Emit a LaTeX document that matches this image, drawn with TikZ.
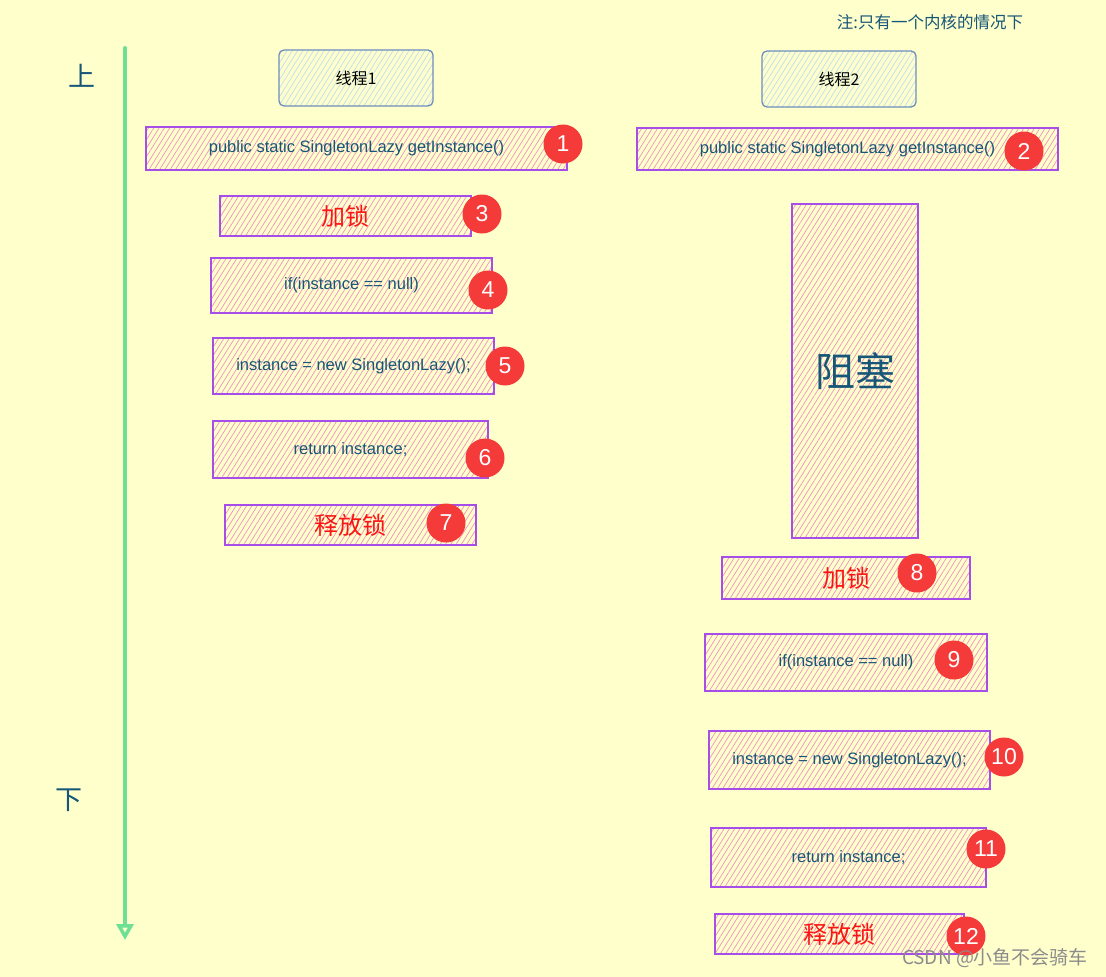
\documentclass[tikz,border=0pt]{standalone}
\usepackage{fontspec}
\setmainfont{Liberation Sans}
\newfontfamily\cjk{Noto Sans CJK SC}
\usetikzlibrary{patterns.meta, arrows.meta}

\definecolor{bgyellow}{RGB}{255,255,204}
\definecolor{boxline}{RGB}{168,78,232}
\definecolor{hatchpink}{RGB}{240,145,195}
\definecolor{threadline}{RGB}{108,142,191}
\definecolor{hatchblue}{RGB}{190,220,242}
\definecolor{inktext}{RGB}{22,86,120}
\definecolor{badgered}{RGB}{245,58,58}
\definecolor{lockred}{RGB}{250,20,20}
\definecolor{arrowgreen}{RGB}{110,224,150}

\tikzset{
  codebox/.style={draw=boxline, line width=1.3pt, pattern={Lines[angle=58,distance=4.5pt,line width=0.7pt]},
    pattern color=hatchpink, text=inktext, font=\fontsize{16.5}{19}\selectfont, inner sep=0pt},
  threadbox/.style={draw=threadline, line width=1.3pt, rounded corners=5pt,
    pattern={Lines[angle=58,distance=4.5pt,line width=0.7pt]}, pattern color=hatchblue,
    font=\cjk\fontsize{16}{19}\selectfont, inner sep=0pt},
  locktext/.style={text=lockred, font=\cjk\fontsize{24}{28}\selectfont},
  badge/.style={circle, fill=badgered, minimum size=39pt, inner sep=0pt, text=white,
    font=\fontsize{23}{25}\selectfont},
  sidelabel/.style={text=inktext, font=\cjk\fontsize{27}{30}\selectfont}
}

\begin{document}
\begin{tikzpicture}[x=1pt,y=-1pt]
  \fill[bgyellow] (0,0) rectangle (1106,977);
  \useasboundingbox (0,0) rectangle (1106,977);

  % time axis
  \coordinate (top) at (125,48);
  \coordinate (bottom) at (125,940);
  \draw[arrowgreen, line width=4pt, line cap=round, -{Triangle[open, length=16pt, width=17pt, line width=3.5pt]}] (top) -- (bottom);
  \node[sidelabel] (up) at (82,76) {上};
  \node[sidelabel] (down) at (69,800) {下};
  \node[text=inktext, font=\cjk\fontsize{16.5}{19}\selectfont] (note) at (930,22) {注:只有一个内核的情况下};

  % thread 1
  \node[threadbox, minimum width=154pt, minimum height=56pt] (t1) at (356,78) {线程1};
  \node[codebox, minimum width=421pt, minimum height=43pt] (a1) at (356.5,148.5) {public static SingletonLazy getInstance()};
  \node[codebox, minimum width=251pt, minimum height=40pt, locktext] (a3) at (345.5,216) {加锁};
  \node[codebox, minimum width=281pt, minimum height=55pt] (a4) at (351.5,285.5) {if(instance == null)};
  \node[codebox, minimum width=281pt, minimum height=56pt] (a5) at (353.5,366) {instance = new SingletonLazy();};
  \node[codebox, minimum width=275pt, minimum height=57pt] (a6) at (350.5,449.5) {return instance;};
  \node[codebox, minimum width=251pt, minimum height=40pt, locktext] (a7) at (350.5,525) {释放锁};

  % thread 2
  \node[threadbox, minimum width=154pt, minimum height=56pt] (t2) at (839,79) {线程2};
  \node[codebox, minimum width=421pt, minimum height=42pt] (b2) at (847.5,149) {public static SingletonLazy getInstance()};
  \node[codebox, minimum width=126pt, minimum height=334pt, font=\cjk\fontsize{40}{46}\selectfont] (wait) at (855,371) {阻塞};
  \node[codebox, minimum width=248pt, minimum height=42pt, locktext] (b8) at (846,578) {加锁};
  \node[codebox, minimum width=282pt, minimum height=57pt] (b9) at (846,662.5) {if(instance == null)};
  \node[codebox, minimum width=281pt, minimum height=58pt] (b10) at (849.5,760) {instance = new SingletonLazy();};
  \node[codebox, minimum width=275pt, minimum height=59pt] (b11) at (848.5,857.5) {return instance;};
  \node[codebox, minimum width=249pt, minimum height=40pt, locktext] (b12) at (839.5,934) {释放锁};

  % step numbers
  \node[badge] (n1) at (563,144) {1};
  \node[badge] (n2) at (1024,151) {2};
  \node[badge] (n3) at (482,214) {3};
  \node[badge] (n4) at (488,290) {4};
  \node[badge] (n5) at (505,366) {5};
  \node[badge] (n6) at (485,458) {6};
  \node[badge] (n7) at (446,523) {7};
  \node[badge] (n8) at (917,573) {8};
  \node[badge] (n9) at (954,660) {9};
  \node[badge] (n10) at (1004,757) {10};
  \node[badge] (n11) at (986,849) {11};
  \node[badge] (n12) at (966,936) {12};

  \node[text=black!45, font=\cjk\fontsize{19}{22}\selectfont] (mark) at (995,958) {CSDN @小鱼不会骑车};
\end{tikzpicture}
\end{document}
